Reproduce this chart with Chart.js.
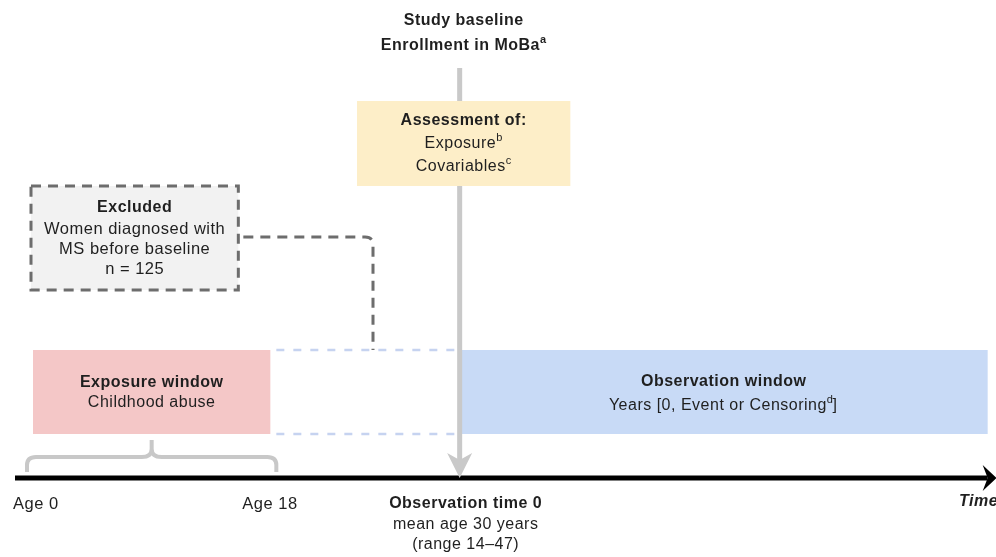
<!DOCTYPE html>
<html>
<head>
<meta charset="utf-8">
<script src="https://cdn.jsdelivr.net/npm/chart.js@4/dist/chart.umd.min.js"></script>
<style>
  html, body { margin: 0; padding: 0; background: #fff; }
  #wrap { width: 996px; height: 557px; }
</style>
</head>
<body>
<div id="wrap"><canvas id="c"></canvas></div>
<script>
// schematic time axis (age in years, not to scale after 18)
var windowNames = ['Exposure window', 'Observation window'];
var windowNotes = ['Childhood abuse', 'Years [0, Event or Censoring'];
var windowNoteSup = ['', 'd'];
var windowNoteEnd = ['', ']'];
var windowFrom = [0, 32];
var windowTo = [17.8, 71.6];
var windowColors = ['#f4c7c7', '#c8daf6'];

var tickLabels = ['Age 0', 'Age 18', 'Observation time 0'];
var tickValues = [0, 18, 32];
var baselineValue = 32;
var timelineFrom = -1.35;
var timelineTo = 72.2;

var excludedN = 125;

var FONT = '"Liberation Sans", Arial, sans-serif';

function txt(ctx, s, x, y, size, bold, align, color, sup, tail) {
    var f = (bold ? 'bold ' : '') + size + 'px ' + FONT;
    var fs = (bold ? 'bold ' : '') + Math.round(size * 0.68) + 'px ' + FONT;
    ctx.fillStyle = color || '#222';
    ctx.textBaseline = 'middle';
    ctx.textAlign = 'left';
    ctx.letterSpacing = '0.5px';
    ctx.font = f;
    var w = ctx.measureText(s).width;
    var tw = tail ? ctx.measureText(tail).width : 0;
    var sw = 0;
    if (sup) { ctx.font = fs; sw = ctx.measureText(sup).width; }
    var total = w + sw + tw;
    var x0 = x;
    if (align === 'center') x0 = x - total / 2;
    else if (align === 'right') x0 = x - total;
    ctx.font = f;
    ctx.fillText(s, x0, y);
    if (sup) {
        ctx.font = fs;
        ctx.fillText(sup, x0 + w, y - size * 0.4);
    }
    if (tail) {
        ctx.font = f;
        ctx.fillText(tail, x0 + w + sw - 1, y);
    }
}

var diagram = {
    id: 'diagram',
    beforeDatasetsDraw: function (chart) {
        var ctx = chart.ctx, X = chart.scales.x, Y = chart.scales.y;
        var px = function (v) { return X.getPixelForValue(v); };
        var py = function (v) { return Y.getPixelForValue(v); };
        ctx.save();
        // windows
        var top = py(12.8), bot = py(4.4);
        for (var i = 0; i < windowNames.length; i++) {
            ctx.fillStyle = windowColors[i];
            ctx.fillRect(px(windowFrom[i]), top, px(windowTo[i]) - px(windowFrom[i]), bot - top);
        }
        // dashed light blue between windows
        ctx.strokeStyle = '#c6d3f0';
        ctx.lineWidth = 2.5;
        ctx.setLineDash([8, 9]);
        [top, bot].forEach(function (yy) {
            ctx.beginPath();
            ctx.moveTo(px(windowTo[0]) + 6, yy);
            ctx.lineTo(px(windowFrom[1]), yy);
            ctx.stroke();
        });
        ctx.setLineDash([]);
        // curly brace over exposure window
        var bl = px(windowFrom[0]) - 6, br = px(windowTo[0]) + 6, bm = (bl + br) / 2;
        var by0 = py(0.6), by1 = py(2.1), by2 = py(3.8);
        ctx.strokeStyle = '#c8c8c8';
        ctx.lineWidth = 4;
        ctx.beginPath();
        ctx.moveTo(bl, by0);
        ctx.lineTo(bl, by1 + 8);
        ctx.quadraticCurveTo(bl, by1, bl + 9, by1);
        ctx.lineTo(bm - 10, by1);
        ctx.quadraticCurveTo(bm, by1, bm, by1 - 8);
        ctx.lineTo(bm, by2);
        ctx.moveTo(bm, by1 - 8);
        ctx.quadraticCurveTo(bm, by1, bm + 10, by1);
        ctx.lineTo(br - 9, by1);
        ctx.quadraticCurveTo(br, by1, br, by1 + 8);
        ctx.lineTo(br, by0);
        ctx.stroke();
        ctx.restore();
    },
    afterDatasetsDraw: function (chart) {
        var ctx = chart.ctx, X = chart.scales.x, Y = chart.scales.y;
        var px = function (v) { return X.getPixelForValue(v); };
        var py = function (v) { return Y.getPixelForValue(v); };
        ctx.save();
        var bx = px(baselineValue), ty = py(0);
        // gray arrow head
        ctx.fillStyle = '#c9c9c9';
        ctx.beginPath();
        ctx.moveTo(bx, ty);
        ctx.lineTo(bx - 12.5, ty - 25);
        ctx.lineTo(bx, ty - 18);
        ctx.lineTo(bx + 12.5, ty - 25);
        ctx.closePath();
        ctx.fill();
        // timeline arrow head
        var ex = px(timelineTo);
        ctx.fillStyle = '#000';
        ctx.beginPath();
        ctx.moveTo(ex + 1, ty);
        ctx.lineTo(ex - 13, ty - 13);
        ctx.lineTo(ex - 8, ty);
        ctx.lineTo(ex - 13, ty + 13);
        ctx.closePath();
        ctx.fill();

        // yellow assessment box
        ctx.fillStyle = '#fdeec8';
        ctx.fillRect(px(24.3), py(37.7), px(40.3) - px(24.3), py(29.2) - py(37.7));

        // excluded box
        var ex0 = px(-0.15), ex1 = px(15.4), ey0 = py(29.2), ey1 = py(18.8);
        ctx.fillStyle = '#f2f2f2';
        ctx.fillRect(ex0, ey0, ex1 - ex0, ey1 - ey0);
        ctx.strokeStyle = '#6d6d6d';
        ctx.lineWidth = 3;
        ctx.setLineDash([10, 7]);
        ctx.strokeRect(ex0, ey0, ex1 - ex0, ey1 - ey0);
        // connector
        var cy = py(24.1), cx = px(25.5);
        ctx.beginPath();
        ctx.moveTo(ex1 + 5, cy);
        ctx.lineTo(cx - 8, cy);
        ctx.quadraticCurveTo(cx, cy, cx, cy + 8);
        ctx.lineTo(cx, py(12.8));
        ctx.stroke();
        ctx.setLineDash([]);

        // texts
        var C = '#1f1f1f';
        txt(ctx, 'Study baseline', bx + 4, 21, 16, true, 'center', C);
        txt(ctx, 'Enrollment in MoBa', bx + 4, 46, 16, true, 'center', C, 'a');
        var yc = (px(24.3) + px(40.3)) / 2;
        txt(ctx, 'Assessment of:', yc, 121, 16, true, 'center', C);
        txt(ctx, 'Exposure', yc, 144, 16, false, 'center', C, 'b');
        txt(ctx, 'Covariables', yc, 167, 16, false, 'center', C, 'c');

        var xc = (ex0 + ex1) / 2;
        txt(ctx, 'Excluded', xc, 208, 16, true, 'center', C);
        txt(ctx, 'Women diagnosed with', xc, 229, 16.5, false, 'center', C);
        txt(ctx, 'MS before baseline', xc, 249, 16.5, false, 'center', C);
        txt(ctx, 'n = ' + excludedN, xc, 269, 16.5, false, 'center', C);

        var wy = [[383, 403], [382, 406]];
        for (var i = 0; i < windowNames.length; i++) {
            var mx = (px(windowFrom[i]) + px(windowTo[i])) / 2;
            txt(ctx, windowNames[i], mx, wy[i][0], 16, true, 'center', C);
            txt(ctx, windowNotes[i], mx, wy[i][1], 16, false, 'center', C, windowNoteSup[i], windowNoteEnd[i]);
        }

        txt(ctx, tickLabels[0], px(tickValues[0]) - 20, 504, 16.5, false, 'left', C);
        txt(ctx, tickLabels[1], px(tickValues[1]) - 3, 504, 16.5, false, 'center', C);
        txt(ctx, tickLabels[2], bx + 6, 504, 16, true, 'center', C);
        txt(ctx, 'mean age 30 years', bx + 6, 525, 16, false, 'center', C);
        txt(ctx, '(range 14\u201347)', bx + 6, 545, 16, false, 'center', C);
        ctx.font = 'italic bold 16px ' + FONT;
        ctx.textAlign = 'left';
        ctx.textBaseline = 'middle';
        ctx.letterSpacing = '0.5px';
        ctx.fillStyle = C;
        ctx.fillText('Time', 959, 502);
        ctx.restore();
    }
};

new Chart(document.getElementById('c'), {
    type: 'scatter',
    data: {
        datasets: [
            {
                label: 'baseline',
                data: [{x: baselineValue, y: 41}, {x: baselineValue, y: 1.6}],
                showLine: true,
                borderColor: '#c9c9c9',
                borderWidth: 5,
                pointRadius: 0
            },
            {
                label: 'timeline',
                data: [{x: timelineFrom, y: 0}, {x: timelineTo - 0.6, y: 0}],
                showLine: true,
                borderColor: '#000',
                borderWidth: 5,
                pointRadius: 0
            }
        ]
    },
    options: {
        animation: false,
        responsive: true,
        maintainAspectRatio: false,
        layout: { padding: 0 },
        plugins: { legend: { display: false }, tooltip: { enabled: false } },
        scales: {
            x: { type: 'linear', display: false, min: -2.475, max: 72.225 },
            y: { type: 'linear', display: false, min: -7.9, max: 47.8 }
        }
    },
    plugins: [diagram]
});
</script>
</body>
</html>
